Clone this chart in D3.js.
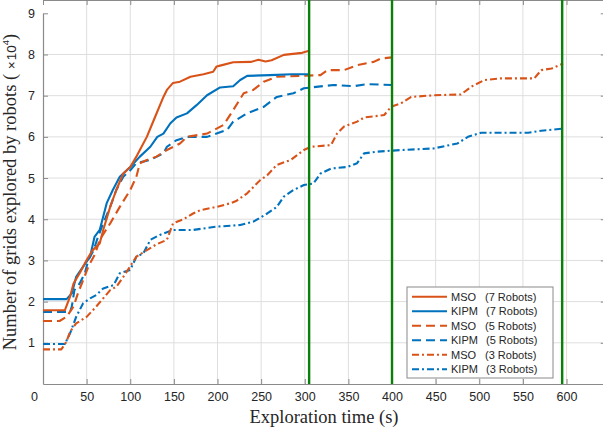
<!DOCTYPE html>
<html>
<head>
<meta charset="utf-8">
<script src="https://cdn.jsdelivr.net/npm/d3@7"></script>
<style>
  body { margin: 0; background: #fff; }
  .tick-label { font-family: "Liberation Sans", Arial, sans-serif; font-size: 12.5px; fill: #262626; }
  .axis-title { font-family: "Liberation Serif", "Times New Roman", serif; font-size: 18.5px; fill: #262626; }
  .legend-text { font-family: "Liberation Sans", Arial, sans-serif; font-size: 11px; fill: #262626; }
</style>
</head>
<body>
<svg id="chart" width="603" height="428"></svg>
<script>
// data: [time (s), grids explored (x10^4)]
var msoSeven = [[0,1.79],[25,1.79],[31,2.12],[35,2.44],[42,2.69],[50,3.01],[57,3.25],[65,3.41],[69,3.74],[77,4.30],[84,4.71],[92,5.11],[100,5.27],[107,5.52],[111,5.68],[119,6.0],[127,6.41],[138,6.97],[142,7.14],[149,7.31],[157,7.34],[169,7.46],[184,7.52],[195,7.58],[199,7.71],[203,7.73],[218,7.81],[238,7.82],[247,7.87],[255,7.83],[262,7.86],[276,7.99],[297,8.04],[305,8.09]];
var kipmSeven = [[0,2.06],[27,2.06],[33,2.2],[38,2.6],[46,2.85],[54,3.09],[59,3.57],[65,3.74],[73,4.39],[80,4.71],[88,5.03],[100,5.27],[111,5.52],[123,5.76],[131,6.0],[138,6.08],[146,6.33],[153,6.47],[165,6.57],[176,6.77],[188,7.01],[203,7.2],[218,7.23],[226,7.38],[234,7.48],[260,7.5],[285,7.52],[305,7.52]];
var msoFive = [[0,1.53],[19,1.53],[27,1.63],[35,1.88],[40,2.2],[46,2.52],[52,2.85],[60,3.17],[65,3.5],[77,3.9],[88,4.3],[100,4.71],[107,5.03],[111,5.36],[119,5.44],[130,5.52],[142,5.68],[157,5.84],[165,6.0],[188,6.08],[207,6.29],[218,6.65],[230,7.06],[241,7.14],[253,7.34],[268,7.46],[318,7.5],[326,7.62],[345,7.62],[360,7.74],[379,7.82],[387,7.9],[400,7.93]];
var kipmFive = [[0,1.75],[31,1.75],[33,1.88],[36,2.28],[42,2.44],[48,2.69],[52,3.01],[58,3.25],[63,3.57],[69,3.9],[77,4.3],[84,4.71],[92,5.03],[100,5.19],[107,5.36],[123,5.44],[138,5.6],[142,5.76],[153,5.92],[165,6.0],[188,6.0],[211,6.17],[218,6.37],[234,6.57],[253,6.73],[268,6.97],[287,7.06],[299,7.18],[307,7.2],[333,7.26],[356,7.23],[372,7.28],[400,7.26]];
var msoThree = [[0,0.84],[21,0.84],[27,1.03],[31,1.27],[38,1.47],[50,1.63],[61,1.88],[69,2.08],[77,2.28],[84,2.36],[92,2.6],[96,2.73],[107,3.09],[119,3.25],[130,3.39],[142,3.5],[149,3.9],[161,4.0],[172,4.14],[180,4.22],[199,4.3],[215,4.39],[222,4.45],[234,4.63],[249,4.95],[257,5.07],[268,5.32],[284,5.44],[299,5.68],[307,5.76],[330,5.8],[337,6.08],[345,6.25],[360,6.37],[368,6.47],[391,6.53],[399,6.73],[410,6.81],[422,6.97],[448,7.01],[479,7.03],[491,7.22],[506,7.38],[525,7.42],[563,7.42],[571,7.62],[583,7.66],[596,7.78]];
var kipmThree = [[0,0.97],[25,0.97],[31,1.23],[38,1.63],[46,1.96],[54,2.08],[61,2.16],[69,2.32],[81,2.4],[88,2.69],[100,2.77],[107,3.09],[115,3.17],[123,3.5],[134,3.62],[149,3.74],[172,3.74],[199,3.82],[226,3.86],[241,3.94],[249,4.04],[257,4.14],[268,4.3],[276,4.55],[287,4.71],[299,4.83],[310,4.87],[318,5.11],[330,5.23],[349,5.27],[360,5.36],[368,5.6],[383,5.64],[410,5.68],[448,5.72],[475,5.84],[487,6.0],[502,6.1],[556,6.1],[571,6.15],[596,6.2]];

var methods = ["MSO", "KIPM", "MSO", "KIPM", "MSO", "KIPM"];
var robotLabels = ["(7 Robots)", "(7 Robots)", "(5 Robots)", "(5 Robots)", "(3 Robots)", "(3 Robots)"];
var seriesData = [msoSeven, kipmSeven, msoFive, kipmFive, msoThree, kipmThree];
var markerTimes = [305, 400, 595];   // green vertical lines
var xTicks = [0,50,100,150,200,250,300,350,400,450,500,550,600];
var yTicks = [1,2,3,4,5,6,7,8,9];

var orange = "#D95319", blue = "#0072BD";
var colors = [orange, blue, orange, blue, orange, blue];
var dashes = [null, null, "9,5", "9,5", "7,3,2,3", "7,3,2,3"];

var svg = d3.select("#chart");

var x = d3.scaleLinear().domain([0, 645]).range([43, 605.8]);
var y = d3.scaleLinear().domain([0, 9]).range([384, 13.3]);

var left = x(0), right = x(645), top = y(9), bottom = y(0);

// plot background
svg.append("rect")
    .attr("x", left).attr("y", top)
    .attr("width", right - left).attr("height", bottom - top)
    .attr("fill", "#f7f7f7");

// grid
svg.append("g").selectAll("line")
    .data(xTicks.slice(1))
    .enter().append("line")
    .attr("x1", function(d) { return x(d); }).attr("x2", function(d) { return x(d); })
    .attr("y1", top).attr("y2", bottom)
    .attr("stroke", "#dedede").attr("stroke-width", 1);

svg.append("g").selectAll("line")
    .data(yTicks.slice(0, -1))
    .enter().append("line")
    .attr("y1", function(d) { return y(d); }).attr("y2", function(d) { return y(d); })
    .attr("x1", left).attr("x2", right)
    .attr("stroke", "#dedede").attr("stroke-width", 1);

// axes (ticks pointing inwards, box all round)
var axisColor = "#8a8a8a";
function styleAxis(g) {
  g.select(".domain").attr("stroke", axisColor).attr("stroke-width", 1.2);
  g.selectAll(".tick line").attr("stroke", axisColor);
}

var xAxis = svg.append("g")
    .attr("transform", "translate(0," + bottom + ")")
    .call(d3.axisBottom(x).tickValues(xTicks).tickSizeInner(-5).tickSizeOuter(0).tickPadding(8));
styleAxis(xAxis);
xAxis.selectAll("text").attr("class", "tick-label").attr("font-size", null).attr("font-family", null);
xAxis.selectAll("text").filter(function(d) { return d === 0; }).attr("dx", -9);

svg.append("g")
    .attr("transform", "translate(0," + top + ")")
    .call(d3.axisTop(x).tickValues(xTicks).tickSizeInner(-5).tickSizeOuter(0).tickFormat(""))
    .call(styleAxis);

var yAxis = svg.append("g")
    .attr("transform", "translate(" + left + ",0)")
    .call(d3.axisLeft(y).tickValues(yTicks).tickSizeInner(-5).tickSizeOuter(0).tickPadding(8));
styleAxis(yAxis);
yAxis.selectAll("text").attr("class", "tick-label").attr("font-size", null).attr("font-family", null);

svg.append("g")
    .attr("transform", "translate(" + right + ",0)")
    .call(d3.axisRight(y).tickValues(yTicks).tickSizeInner(-5).tickSizeOuter(0).tickFormat(""))
    .call(styleAxis);

// curves
var line = d3.line()
    .x(function(d) { return x(d[0]); })
    .y(function(d) { return y(d[1]); });

svg.append("g").selectAll("path")
    .data(seriesData.map(function(s, i) { return {values: s, i: i}; }).reverse())
    .enter().append("path")
    .attr("d", function(d) { return line(d.values); })
    .attr("fill", "none")
    .attr("stroke", function(d) { return colors[d.i]; })
    .attr("stroke-width", 2.1)
    .attr("stroke-linejoin", "round")
    .attr("stroke-dasharray", function(d) { return dashes[d.i]; });

// green markers
svg.append("g").selectAll("line")
    .data(markerTimes)
    .enter().append("line")
    .attr("x1", function(d) { return x(d); }).attr("x2", function(d) { return x(d); })
    .attr("y1", top).attr("y2", bottom)
    .attr("stroke", "#0a800a").attr("stroke-width", 2.4);

// axis titles
svg.append("text")
    .attr("class", "axis-title")
    .attr("x", 324).attr("y", 422.5)
    .attr("text-anchor", "middle")
    .text("Exploration time (s)");

var sans = "Liberation Sans, Arial, sans-serif";
var yTitle = svg.append("text")
    .attr("class", "axis-title")
    .attr("transform", "translate(16,192) rotate(-90)")
    .attr("text-anchor", "middle");
yTitle.append("tspan").text("Number of grids explored by robots ( ");
yTitle.append("tspan").attr("font-family", sans).attr("font-size", "13.5px").text("\u00d7\u200a10");
yTitle.append("tspan").attr("font-family", sans).attr("font-size", "9.5px").attr("dy", -7).text("4");
yTitle.append("tspan").attr("dy", 7).text(")");

// legend
var legend = svg.append("g").attr("transform", "translate(407,287)");
legend.append("rect")
    .attr("width", 146).attr("height", 91)
    .attr("fill", "#fff").attr("stroke", "#8a8a8a").attr("stroke-width", 1);

var rows = legend.selectAll("g.row")
    .data(methods)
    .enter().append("g")
    .attr("class", "row")
    .attr("transform", function(d, i) { return "translate(0," + (9.7 + i * 14.5) + ")"; });

rows.append("line")
    .attr("x1", 5).attr("x2", 40)
    .attr("stroke", function(d, i) { return colors[i]; })
    .attr("stroke-width", 2.1)
    .attr("stroke-dasharray", function(d, i) { return dashes[i]; });

rows.append("text")
    .attr("class", "legend-text")
    .attr("x", 44).attr("y", 4)
    .text(function(d) { return d; });

rows.append("text")
    .attr("class", "legend-text")
    .attr("x", function(d) { return d === "MSO" ? 78 : 79; })
    .attr("y", 4)
    .text(function(d, i) { return robotLabels[i]; });
</script>
</body>
</html>
